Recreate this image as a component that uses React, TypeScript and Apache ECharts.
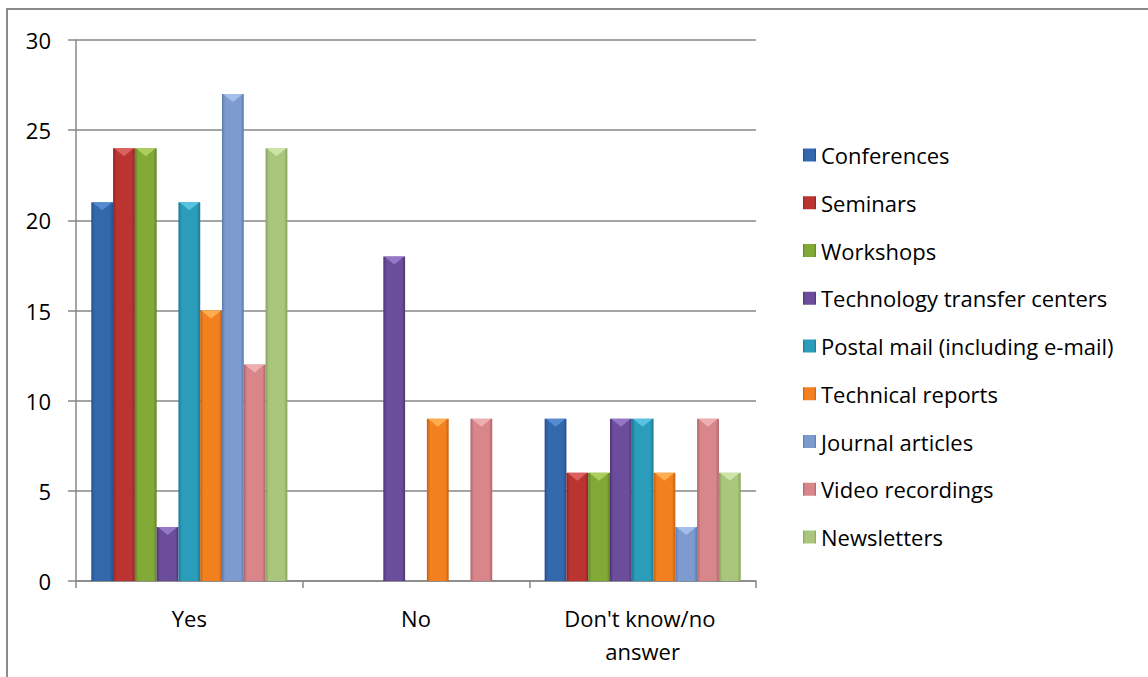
import React, { useEffect, useRef } from "react";
import * as echarts from "echarts";

const categories = ["Yes", "No", "Don't know/no answer"];
const seriesNames = [
  "Conferences",
  "Seminars",
  "Workshops",
  "Technology transfer centers",
  "Postal mail (including e-mail)",
  "Technical reports",
  "Journal articles",
  "Video recordings",
  "Newsletters",
];
const conferences = [21, 0, 9];
const seminars = [24, 0, 6];
const workshops = [24, 0, 6];
const techTransfer = [3, 18, 9];
const postalMail = [21, 0, 9];
const techReports = [15, 9, 6];
const journalArticles = [27, 0, 3];
const videoRecordings = [12, 9, 9];
const newsletters = [24, 0, 6];
const seriesValues = [
  conferences,
  seminars,
  workshops,
  techTransfer,
  postalMail,
  techReports,
  journalArticles,
  videoRecordings,
  newsletters,
];
const yTicks = [0, 5, 10, 15, 20, 25, 30];

const baseColors = [
  ["#224f8a", "#3368ad", "#5a8fd6"],
  ["#8e2422", "#bb3432", "#e06564"],
  ["#5f8224", "#82a936", "#b0d260"],
  ["#4d3475", "#6c4d9b", "#9a7ccc"],
  ["#1d7890", "#2b9cba", "#5cc8e6"],
  ["#c45f10", "#f2801f", "#ffb255"],
  ["#5a7bb0", "#7d9bcf", "#a9c2ec"],
  ["#b0636a", "#d8868a", "#f1b1b3"],
  ["#87a25a", "#aac67c", "#d3e6ad"],
];

const CAT_GAP = 0.135;

function grad(c: string[]) {
  return new echarts.graphic.LinearGradient(0, 0, 1, 0, [
    { offset: 0, color: c[0] },
    { offset: 0.15, color: c[1] },
    { offset: 0.85, color: c[1] },
    { offset: 1, color: c[0] },
  ]);
}

export default function App() {
  const ref = useRef<HTMLDivElement>(null);
  useEffect(() => {
    if (!ref.current) return;
    const chart = echarts.init(ref.current, undefined, { renderer: "svg" });
    const font = "'Open Sans', 'Liberation Sans', sans-serif";
    const bevelData: number[][] = [];
    seriesValues.forEach((vals, s) => {
      vals.forEach((v, c) => {
        if (v > 0) bevelData.push([c, v, s]);
      });
    });
    const nSeries = seriesNames.length;
    chart.setOption({
      animation: false,
      textStyle: { fontFamily: font },
      graphic: [
        {
          type: "rect",
          shape: { x: 7, y: 9, width: 1300, height: 900 },
          style: { fill: "none", stroke: "#8a8a8a", lineWidth: 2 },
          silent: true,
        },
      ],
      grid: { left: 76, top: 40, right: 392, bottom: 96 },
      legend: {
        orient: "vertical",
        left: 798,
        top: 138.5,
        itemWidth: 13,
        itemHeight: 13,
        itemGap: 24.75,
        icon: "rect",
        textStyle: {
          fontSize: 22,
          lineHeight: 23,
          color: "#000",
          fontFamily: font,
        },
        data: seriesNames,
      },
      xAxis: {
        type: "category",
        data: categories,
        axisLine: { lineStyle: { color: "#878787", width: 1.5 } },
        axisTick: { show: true, length: 7, lineStyle: { color: "#878787", width: 1.5 } },
        axisLabel: {
          interval: 0,
          fontSize: 22,
          color: "#000",
          margin: 20,
          width: 205,
          overflow: "break",
          lineHeight: 33,
          fontFamily: font,
        },
      },
      yAxis: {
        type: "value",
        min: 0,
        max: 30,
        interval: 5,
        axisLine: { show: true, lineStyle: { color: "#878787", width: 1.5 } },
        axisTick: { show: true, length: 8, lineStyle: { color: "#878787", width: 1.5 } },
        splitLine: { lineStyle: { color: "#878787", width: 1.5 } },
        axisLabel: {
          fontSize: 22,
          color: "#000",
          margin: 25,
          fontFamily: font,
          formatter: (v: number) => (yTicks.includes(v) ? String(v) : ""),
        },
      },
      series: [
        ...seriesNames.map((name, i) => ({
          name,
          type: "bar",
          data: seriesValues[i],
          barGap: "0%",
          barCategoryGap: "13.5%",
          itemStyle: {
            color: grad(baseColors[i]),
          },
        })),
        {
          type: "custom",
          name: "bevel",
          silent: true,
          z: 5,
          data: bevelData,
          encode: { x: 0, y: 1 },
          renderItem: (params: any, api: any) => {
            const c = api.value(0);
            const v = api.value(1);
            const s = api.value(2);
            const pt = api.coord([c, v]);
            const band = api.size([1, 0])[0];
            const groupW = band * (1 - CAT_GAP);
            const barW = groupW / nSeries;
            const x0 = pt[0] - groupW / 2 + s * barW;
            const y = pt[1];
            const d = Math.min(barW * 0.38, 8);
            return {
              type: "polygon",
              shape: {
                points: [
                  [x0 + 1, y],
                  [x0 + barW - 1, y],
                  [x0 + barW / 2, y + d],
                ],
              },
              style: { fill: baseColors[s][2], opacity: 0.9 },
            };
          },
        },
      ],
    });
    return () => chart.dispose();
  }, []);
  return <div ref={ref} style={{ width: 1148, height: 677, position: "absolute", left: 0, top: 0 }} />;
}
